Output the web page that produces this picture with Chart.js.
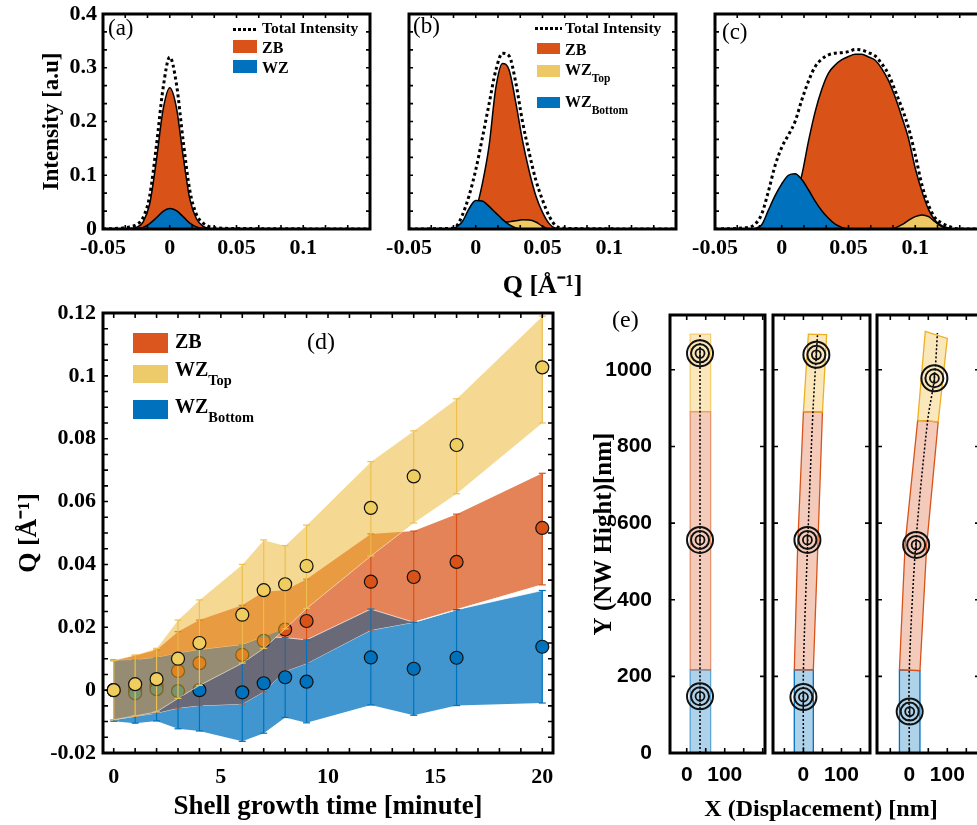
<!DOCTYPE html>
<html>
<head>
<meta charset="utf-8">
<title>Q shift vs shell growth time</title>
<script src="https://cdn.jsdelivr.net/npm/chart.js@4.4.1/dist/chart.umd.min.js"></script>
<style>
  html, body { margin: 0; padding: 0; background: #fff; }
  #fig { position: relative; width: 977px; height: 825px; overflow: hidden; }
  #fig canvas { position: absolute; }
  .t { position: absolute; font-family: "Liberation Serif", "Times New Roman", serif; color: #000; white-space: nowrap; line-height: 1; }
  .b { font-weight: bold; }
  .sw { position: absolute; }
  .dots { position: absolute; height: 3px; background: repeating-linear-gradient(90deg, #000 0 3px, transparent 3px 5px); }
  .t sub { font-size: 72%; vertical-align: -0.62em; line-height: 0; }
</style>
</head>
<body>
<div id="fig">
  <canvas id="ca"></canvas>
  <canvas id="cb"></canvas>
  <canvas id="cc"></canvas>
  <canvas id="cd"></canvas>
  <canvas id="ce1"></canvas>
  <canvas id="ce2"></canvas>
  <canvas id="ce3"></canvas>

  <!-- panel labels -->
  <div class="t" style="left:108px;top:16px;font-size:23px">(a)</div>
  <div class="t" style="left:413px;top:14px;font-size:23px">(b)</div>
  <div class="t" style="left:722px;top:20px;font-size:23px">(c)</div>
  <div class="t" style="left:307px;top:329px;font-size:24px">(d)</div>
  <div class="t" style="left:612px;top:307px;font-size:24px">(e)</div>

  <!-- legend (a) -->
  <div class="dots" style="left:233px;top:28px;width:25px"></div>
  <div class="t b" style="left:262px;top:20px;font-size:15.5px">Total Intensity</div>
  <div class="sw" style="left:233px;top:40px;width:24px;height:13px;background:#D95319"></div>
  <div class="t b" style="left:262px;top:40px;font-size:16px">ZB</div>
  <div class="sw" style="left:233px;top:60px;width:24px;height:13px;background:#0072BD"></div>
  <div class="t b" style="left:262px;top:60px;font-size:16px">WZ</div>

  <!-- legend (b) -->
  <div class="dots" style="left:535px;top:27px;width:27px"></div>
  <div class="t b" style="left:565px;top:20px;font-size:15.5px">Total Intensity</div>
  <div class="sw" style="left:537px;top:43px;width:23px;height:11px;background:#D95319"></div>
  <div class="t b" style="left:565px;top:42px;font-size:16px">ZB</div>
  <div class="sw" style="left:537px;top:65px;width:23px;height:12px;background:#EDC864"></div>
  <div class="t b" style="left:565px;top:62px;font-size:16px">WZ<sub>Top</sub></div>
  <div class="sw" style="left:537px;top:97px;width:23px;height:11px;background:#0072BD"></div>
  <div class="t b" style="left:565px;top:94px;font-size:16px">WZ<sub>Bottom</sub></div>

  <!-- legend (d) -->
  <div class="sw" style="left:133px;top:333px;width:35px;height:20px;background:#DA561E"></div>
  <div class="t b" style="left:175px;top:331px;font-size:20px">ZB</div>
  <div class="sw" style="left:133px;top:365px;width:35px;height:18px;background:#EDCB6A"></div>
  <div class="t b" style="left:175px;top:359px;font-size:20px">WZ<sub>Top</sub></div>
  <div class="sw" style="left:133px;top:400px;width:35px;height:19px;background:#0072BD"></div>
  <div class="t b" style="left:175px;top:396px;font-size:20px">WZ<sub>Bottom</sub></div>

  <!-- shared x title of panel (e) -->
  <div class="t b" style="left:821px;top:796px;font-size:24px;transform:translateX(-50%)">X (Displacement) [nm]</div>
</div>

<script>
// ---------- (a)-(c): intensity profiles along Q ----------
const qTicks = [-0.05, 0, 0.05, 0.1];
const intensityTicks = [0, 0.1, 0.2, 0.3, 0.4];

const qGridA = [-0.05, -0.035, -0.03, -0.025, -0.02, -0.015, -0.01, -0.005, 0, 0.005, 0.01, 0.015, 0.02, 0.025, 0.03, 0.035, 0.05, 0.15];
const zbA    = [0, 0, 0.001, 0.003, 0.013, 0.047, 0.128, 0.222, 0.263, 0.226, 0.136, 0.056, 0.019, 0.005, 0.001, 0, 0, 0];
const wzA    = [0, 0, 0, 0.001, 0.003, 0.01, 0.021, 0.033, 0.038, 0.034, 0.023, 0.011, 0.004, 0.001, 0, 0, 0, 0];
const totalA = [0, 0.002, 0.004, 0.008, 0.021, 0.062, 0.155, 0.262, 0.32, 0.27, 0.165, 0.072, 0.027, 0.011, 0.004, 0.002, 0.001, 0];

const qGridB = [-0.05, -0.02, -0.015, -0.01, -0.005, 0, 0.005, 0.01, 0.015, 0.02, 0.025, 0.03, 0.035, 0.04, 0.045, 0.05, 0.055, 0.06, 0.065, 0.07, 0.15];
const zbB     = [0, 0, 0, 0.001, 0.008, 0.035, 0.085, 0.155, 0.262, 0.308, 0.296, 0.235, 0.165, 0.108, 0.062, 0.031, 0.01, 0.001, 0, 0, 0];
const wzTopB  = [0, 0, 0, 0, 0, 0, 0, 0, 0.003, 0.011, 0.0135, 0.0155, 0.017, 0.0168, 0.013, 0.005, 0, 0, 0, 0, 0];
const wzBotB  = [0, 0, 0.003, 0.014, 0.038, 0.053, 0.052, 0.042, 0.03, 0.018, 0.008, 0.002, 0, 0, 0, 0, 0, 0, 0, 0, 0];
const totalB  = [0, 0.001, 0.004, 0.026, 0.062, 0.11, 0.17, 0.233, 0.295, 0.327, 0.322, 0.272, 0.2, 0.142, 0.091, 0.054, 0.024, 0.006, 0.002, 0.001, 0];

const qGridC = [-0.05, -0.025, -0.02, -0.015, -0.01, -0.005, 0, 0.005, 0.01, 0.015, 0.02, 0.025, 0.03, 0.035, 0.04, 0.045, 0.05, 0.055,
                0.06, 0.065, 0.07, 0.075, 0.08, 0.085, 0.09, 0.095, 0.1, 0.105, 0.11, 0.115, 0.12, 0.125, 0.13, 0.135, 0.15];
const zbC    = [0, 0, 0, 0, 0, 0.003, 0.012, 0.03, 0.06, 0.1, 0.163, 0.218, 0.26, 0.29, 0.305, 0.315, 0.321, 0.325,
                0.325, 0.32, 0.314, 0.298, 0.276, 0.245, 0.208, 0.168, 0.113, 0.07, 0.036, 0.016, 0.006, 0.002, 0, 0, 0];
const wzTopC = [0, 0, 0, 0, 0, 0, 0, 0, 0, 0, 0, 0, 0, 0, 0, 0, 0, 0,
                0, 0, 0, 0, 0, 0.002, 0.008, 0.016, 0.023, 0.026, 0.023, 0.013, 0.004, 0, 0, 0, 0];
const wzBotC = [0, 0, 0.001, 0.008, 0.035, 0.062, 0.084, 0.1, 0.103, 0.092, 0.073, 0.052, 0.034, 0.02, 0.009, 0.003, 0, 0,
                0, 0, 0, 0, 0, 0, 0, 0, 0, 0, 0, 0, 0, 0, 0, 0, 0];
const totalC = [0, 0.003, 0.009, 0.028, 0.07, 0.118, 0.152, 0.175, 0.2, 0.24, 0.275, 0.302, 0.316, 0.324, 0.327, 0.328, 0.33, 0.334,
                0.333, 0.328, 0.322, 0.307, 0.288, 0.257, 0.225, 0.188, 0.138, 0.082, 0.044, 0.02, 0.011, 0.005, 0.001, 0, 0];

// ---------- (d): peak position vs shell growth time ----------
const growthTime = [0, 1, 2, 3, 4, 6, 7, 8, 9, 12, 14, 16, 20];
const timeTicks = [0, 5, 10, 15, 20];
const qShiftTicks = [-0.02, 0, 0.02, 0.04, 0.06, 0.08, 0.1, 0.12];

const zbQ     = [0, 0.0002, 0.0015, 0.0061, 0.0086, 0.0112, 0.0157, 0.0193, 0.022, 0.0345, 0.036, 0.0408, 0.0516];
const zbLow   = [-0.0094, -0.0083, -0.0073, -0.0057, -0.0049, -0.0044, -0.0005, 0.006, 0.0085, 0.0191, 0.0216, 0.0256, 0.0335];
const zbHigh  = [0.0096, 0.011, 0.0128, 0.0186, 0.0223, 0.027, 0.0313, 0.0318, 0.0353, 0.0497, 0.0506, 0.056, 0.069];
const topQ    = [0, 0.0019, 0.0035, 0.01, 0.015, 0.024, 0.0318, 0.0337, 0.0395, 0.058, 0.068, 0.078, 0.1027];
const topLow  = [-0.0094, -0.0082, -0.0069, -0.0026, 0.0015, 0.0086, 0.0133, 0.0195, 0.026, 0.0427, 0.0532, 0.0625, 0.085];
const topHigh = [0.0094, 0.0112, 0.0133, 0.0223, 0.0287, 0.04, 0.0478, 0.046, 0.0525, 0.0727, 0.0825, 0.0927, 0.119];
const botQ    = [0, -0.001, 0.0003, -0.0003, 0, -0.0007, 0.0022, 0.0041, 0.0027, 0.0104, 0.0068, 0.0103, 0.0138];
const botLow  = [-0.0099, -0.0105, -0.0098, -0.0123, -0.013, -0.0163, -0.0137, -0.0087, -0.0104, -0.0047, -0.008, -0.0049, -0.0041];
const botHigh = [0.0094, 0.0096, 0.0103, 0.0117, 0.0128, 0.0144, 0.017, 0.0167, 0.016, 0.0258, 0.0216, 0.0256, 0.0317];

// ---------- (e): nanowire shape, [x nm, y nm] ----------
const heightTicks = [0, 200, 400, 600, 800, 1000];
const dispTicks = [0, 100];

const wire1Bot = [[9, 0], [63, 0], [63, 217], [9, 217], [9, 0]];
const wire1Zb  = [[9, 217], [63, 217], [63, 891], [9, 891], [9, 217]];
const wire1Top = [[9, 891], [63, 891], [63, 1093], [9, 1093], [9, 891]];
const axis1    = [[35, 0], [35, 1093]];
const marks1   = [[35, 1043], [35, 556], [35, 148]];

const wire2Bot = [[-24, 0], [26, 0], [26, 217], [-24, 217], [-24, 0]];
const wire2Zb  = [[-24, 217], [26, 217], [38, 545], [50, 890], [0, 891], [-15, 545], [-24, 217]];
const wire2Top = [[0, 891], [50, 890], [61, 1092], [13, 1093], [0, 891]];
const axis2    = [[0, 0], [0, 217], [11, 545], [25, 891], [37, 1092]];
const marks2   = [[34, 1039], [10.5, 556], [0, 146]];

const wire3Bot = [[-26, 0], [28, 0], [28, 215], [-26, 217], [-26, 0]];
const wire3Zb  = [[-26, 217], [28, 215], [46, 545], [76, 864], [22, 868], [-11, 545], [-26, 217]];
const wire3Top = [[22, 868], [76, 864], [100, 1082], [42, 1100], [22, 868]];
const axis3    = [[0, 0], [0, 217], [17, 545], [48, 866], [66, 978], [74, 1096]];
const marks3   = [[66, 978], [18, 543], [1, 108]];

// ---------- colours ----------
const ORANGE = '#D95319';
const BLUE = '#0072BD';
const YELLOW = '#EDC864';

Chart.defaults.font.family = '"Liberation Serif", "Times New Roman", serif';
Chart.defaults.font.weight = 'bold';
Chart.defaults.font.size = 22;
Chart.defaults.color = '#000';

const pts = (xs, ys) => xs.map((x, i) => ({ x, y: ys[i] }));
const pairs = arr => arr.map(([x, y]) => ({ x, y }));
const fmt = v => String(+Number(v).toFixed(4));

// box frame with inward ticks on all four sides
const frame = {
  id: 'frame',
  afterDatasetsDraw(chart, args, o) {
    const { ctx, chartArea: a, scales: { x, y } } = chart;
    const seq = (min, max, step) => {
      const out = [];
      for (let k = Math.ceil(min / step - 1e-6); k * step <= max + 1e-9; k++) out.push(k * step);
      return out;
    };
    ctx.save();
    ctx.strokeStyle = '#000';
    ctx.lineWidth = 1.6;
    ctx.beginPath();
    seq(x.min, x.max, o.xStep).forEach(v => {
      const p = x.getPixelForValue(v);
      ctx.moveTo(p, a.bottom); ctx.lineTo(p, a.bottom - o.len);
      ctx.moveTo(p, a.top); ctx.lineTo(p, a.top + o.len);
    });
    seq(y.min, y.max, o.yStep).forEach(v => {
      const p = y.getPixelForValue(v);
      ctx.moveTo(a.left, p); ctx.lineTo(a.left + o.len, p);
      ctx.moveTo(a.right, p); ctx.lineTo(a.right - o.len, p);
    });
    ctx.stroke();
    ctx.lineWidth = 3;
    ctx.strokeRect(a.left, a.top, a.right - a.left, a.bottom - a.top);
    ctx.restore();
  }
};

function axis(a, size, isX) {
  return {
    type: 'linear',
    min: a.min,
    max: a.max,
    display: a.show,
    grid: { display: false, drawTicks: false },
    border: { display: false },
    ticks: { autoSkip: false, maxRotation: 0, minRotation: 0, padding: a.pad || 6, font: a.font, callback: fmt },
    title: a.title
      ? { display: true, text: a.title, font: a.titleFont, padding: a.titlePad }
      : { display: false },
    afterBuildTicks: s => { s.ticks = (a.ticks || []).map(v => ({ value: v })); },
    afterFit: s => {
      if (isX) s.height = a.show ? size : 0;
      else s.width = a.show ? size : 0;
      s.paddingTop = s.paddingBottom = s.paddingLeft = s.paddingRight = 0;
    }
  };
}

function makeChart(id, box, pad, cfg) {
  const c = document.getElementById(id);
  c.width = box.R - box.L + pad.l + pad.r;
  c.height = box.B - box.T + pad.t + pad.b;
  c.style.left = (box.L - pad.l) + 'px';
  c.style.top = (box.T - pad.t) + 'px';
  return new Chart(c, {
    type: 'line',
    data: { datasets: cfg.datasets },
    plugins: [frame],
    options: {
      responsive: false,
      animation: false,
      devicePixelRatio: 1,
      events: [],
      layout: {
        autoPadding: false,
        padding: { left: cfg.y.show ? 0 : pad.l, right: pad.r, top: pad.t, bottom: 0 }
      },
      elements: { point: { radius: 0, hoverRadius: 0 }, line: { tension: 0 } },
      plugins: { legend: { display: false }, tooltip: { enabled: false }, frame: cfg.frame },
      scales: {
        x: axis(cfg.x, pad.b, true),
        y: axis(cfg.y, pad.l, false)
      }
    }
  });
}

// ---------- top row ----------
function profile(q, ys, color) {
  return {
    data: pts(q, ys),
    borderColor: '#000',
    borderWidth: 1.5,
    backgroundColor: color,
    fill: 'origin',
    cubicInterpolationMode: 'monotone'
  };
}
function totalLine(q, ys) {
  return {
    data: pts(q, ys),
    borderColor: '#000',
    borderWidth: 3,
    borderDash: [3, 3],
    fill: false,
    cubicInterpolationMode: 'monotone'
  };
}
const topFrame = { xStep: 0.05 / 3, yStep: 0.1 / 3, len: 4 };
const qAxis = (title) => ({
  show: true, min: -0.05, max: 0.15, ticks: qTicks, pad: 6,
  title: title, titleFont: { size: 26, weight: 'bold' }, titlePad: { top: 0, bottom: 3 }
});

makeChart('ca', { L: 103, T: 14, R: 370, B: 229 }, { l: 103, t: 20, r: 8, b: 50 }, {
  datasets: [totalLine(qGridA, totalA), profile(qGridA, wzA, BLUE), profile(qGridA, zbA, ORANGE)],
  x: qAxis(null),
  y: { show: true, min: 0, max: 0.4, ticks: intensityTicks, pad: 6,
       title: 'Intensity [a.u]', titleFont: { size: 23, weight: 'bold' }, titlePad: { top: 38, bottom: 0 } },
  frame: topFrame
});

makeChart('cb', { L: 409, T: 14, R: 676, B: 229 }, { l: 40, t: 20, r: 8, b: 76 }, {
  datasets: [totalLine(qGridB, totalB), profile(qGridB, wzBotB, BLUE), profile(qGridB, wzTopB, YELLOW), profile(qGridB, zbB, ORANGE)],
  x: qAxis('Q [Å⁻¹]'),
  y: { show: false, min: 0, max: 0.4 },
  frame: topFrame
});

makeChart('cc', { L: 715, T: 14, R: 982, B: 229 }, { l: 40, t: 20, r: 8, b: 50 }, {
  datasets: [totalLine(qGridC, totalC), profile(qGridC, wzBotC, BLUE), profile(qGridC, wzTopC, YELLOW), profile(qGridC, zbC, ORANGE)],
  x: qAxis(null),
  y: { show: false, min: 0, max: 0.4 },
  frame: topFrame
});

// ---------- (d) ----------
const obLow = growthTime.map((t, i) => Math.max(zbLow[i], botLow[i]));
const obHigh = growthTime.map((t, i) => Math.max(obLow[i], Math.min(zbHigh[i], botHigh[i])));
const allLow = growthTime.map((t, i) => Math.max(zbLow[i], botLow[i], topLow[i]));
const allHigh = growthTime.map((t, i) => Math.max(allLow[i], Math.min(zbHigh[i], botHigh[i], topHigh[i])));

const EDGE = 'rgba(255,255,255,0.7)';
const NONE = 'rgba(0,0,0,0)';

function band(hi, lo, color, edge) {
  return [
    { data: pts(growthTime, hi), fill: '+1', backgroundColor: color, borderColor: edge || NONE, borderWidth: 1 },
    { data: pts(growthTime, lo), fill: false, borderColor: edge || NONE, borderWidth: 1 }
  ];
}
function markers(ys, color) {
  return {
    data: pts(growthTime, ys), showLine: false,
    pointRadius: 6.5, pointBackgroundColor: color, pointBorderColor: '#111', pointBorderWidth: 1.2
  };
}
function errorBars(lo, hi, color) {
  return [
    { data: growthTime.flatMap((x, i) => [{ x, y: lo[i] }, { x, y: hi[i] }]), showLine: false,
      pointStyle: 'line', pointRadius: 3.5, pointBorderColor: color, pointBorderWidth: 1.2 },
    { data: growthTime.flatMap((x, i) => [{ x, y: lo[i] }, { x, y: hi[i] }, { x, y: null }]),
      spanGaps: false, borderColor: color, borderWidth: 1.2, fill: false }
  ];
}

makeChart('cd', { L: 103, T: 313, R: 553, B: 753 }, { l: 103, t: 20, r: 10, b: 72 }, {
  datasets: [
    markers(topQ, '#F0CD5F'),
    ...errorBars(topLow, topHigh, '#EDC050'),
    ...band(topHigh, topLow, 'rgba(235,180,40,0.5)', EDGE),
    markers(botQ, BLUE),
    ...errorBars(botLow, botHigh, BLUE),
    markers(zbQ, ORANGE),
    ...errorBars(zbLow, zbHigh, ORANGE),
    ...band(allHigh, allLow, '#4164BE'),
    ...band(obHigh, obLow, '#696978', EDGE),
    ...band(zbHigh, zbLow, '#E48258'),
    ...band(botHigh, botLow, '#4196CF', EDGE)
  ],
  x: { show: true, min: -0.5, max: 20.5, ticks: timeTicks, pad: 11,
       title: 'Shell growth time [minute]', titleFont: { size: 27, weight: 'bold' }, titlePad: { top: 0, bottom: 2 } },
  y: { show: true, min: -0.02, max: 0.12, ticks: qShiftTicks, pad: 7,
       title: 'Q [Å⁻¹]', titleFont: { size: 26, weight: 'bold' }, titlePad: { top: 14, bottom: 0 } },
  frame: { xStep: 1, yStep: 0.005, len: 5 }
});

// ---------- (e) ----------
const sansTicks = { family: '"Liberation Sans", Arial, sans-serif', size: 21, weight: 'bold' };

function wireSets(bot, zb, top, axisLine, marks, faint) {
  const a = faint ? 0.55 : 1;
  const target = (r, w) => ({
    data: pairs(marks), showLine: false, pointRadius: r,
    pointBackgroundColor: NONE, pointBorderColor: '#111', pointBorderWidth: w
  });
  return [
    { data: pairs(marks), showLine: false, pointStyle: 'line', pointRotation: 90, pointRadius: 6,
      pointBorderColor: '#111', pointBorderWidth: 1.5 },
    target(4.5, 1.8),
    target(9, 2),
    target(13, 2),
    { data: pairs(axisLine), borderColor: '#000', borderWidth: 1.5, borderDash: [2, 2], tension: 0.3, fill: false },
    { data: pairs(top), fill: 'shape', backgroundColor: 'rgba(237,177,32,0.3)', borderColor: `rgba(237,177,32,${a})`, borderWidth: 1.3 },
    { data: pairs(zb), fill: 'shape', backgroundColor: 'rgba(217,83,25,0.3)', borderColor: `rgba(217,83,25,${a})`, borderWidth: 1.3 },
    { data: pairs(bot), fill: 'shape', backgroundColor: 'rgba(0,114,189,0.32)', borderColor: `rgba(0,114,189,${a})`, borderWidth: 1.3 }
  ];
}
const wireFrame = { xStep: 50, yStep: 200, len: 5 };
const dispAxis = (min, max) => ({ show: true, min, max, ticks: dispTicks, pad: 10, font: sansTicks });

makeChart('ce1', { L: 670, T: 315, R: 765, B: 753 }, { l: 90, t: 20, r: 4, b: 72 }, {
  datasets: wireSets(wire1Bot, wire1Zb, wire1Top, axis1, marks1, true),
  x: dispAxis(-44, 206),
  y: { show: true, min: 0, max: 1143, ticks: heightTicks, pad: 18, font: sansTicks,
       title: 'Y (NW Hight)[nm]', titleFont: { size: 25, weight: 'bold' }, titlePad: { top: 10, bottom: 0 } },
  frame: wireFrame
});

makeChart('ce2', { L: 773, T: 315, R: 870, B: 753 }, { l: 4, t: 20, r: 3, b: 72 }, {
  datasets: wireSets(wire2Bot, wire2Zb, wire2Top, axis2, marks2, false),
  x: dispAxis(-80, 175),
  y: { show: false, min: 0, max: 1143 },
  frame: wireFrame
});

makeChart('ce3', { L: 877, T: 315, R: 980, B: 753 }, { l: 4, t: 20, r: 3, b: 72 }, {
  datasets: wireSets(wire3Bot, wire3Zb, wire3Top, axis3, marks3, false),
  x: dispAxis(-85, 186),
  y: { show: false, min: 0, max: 1143 },
  frame: wireFrame
});
</script>
</body>
</html>
